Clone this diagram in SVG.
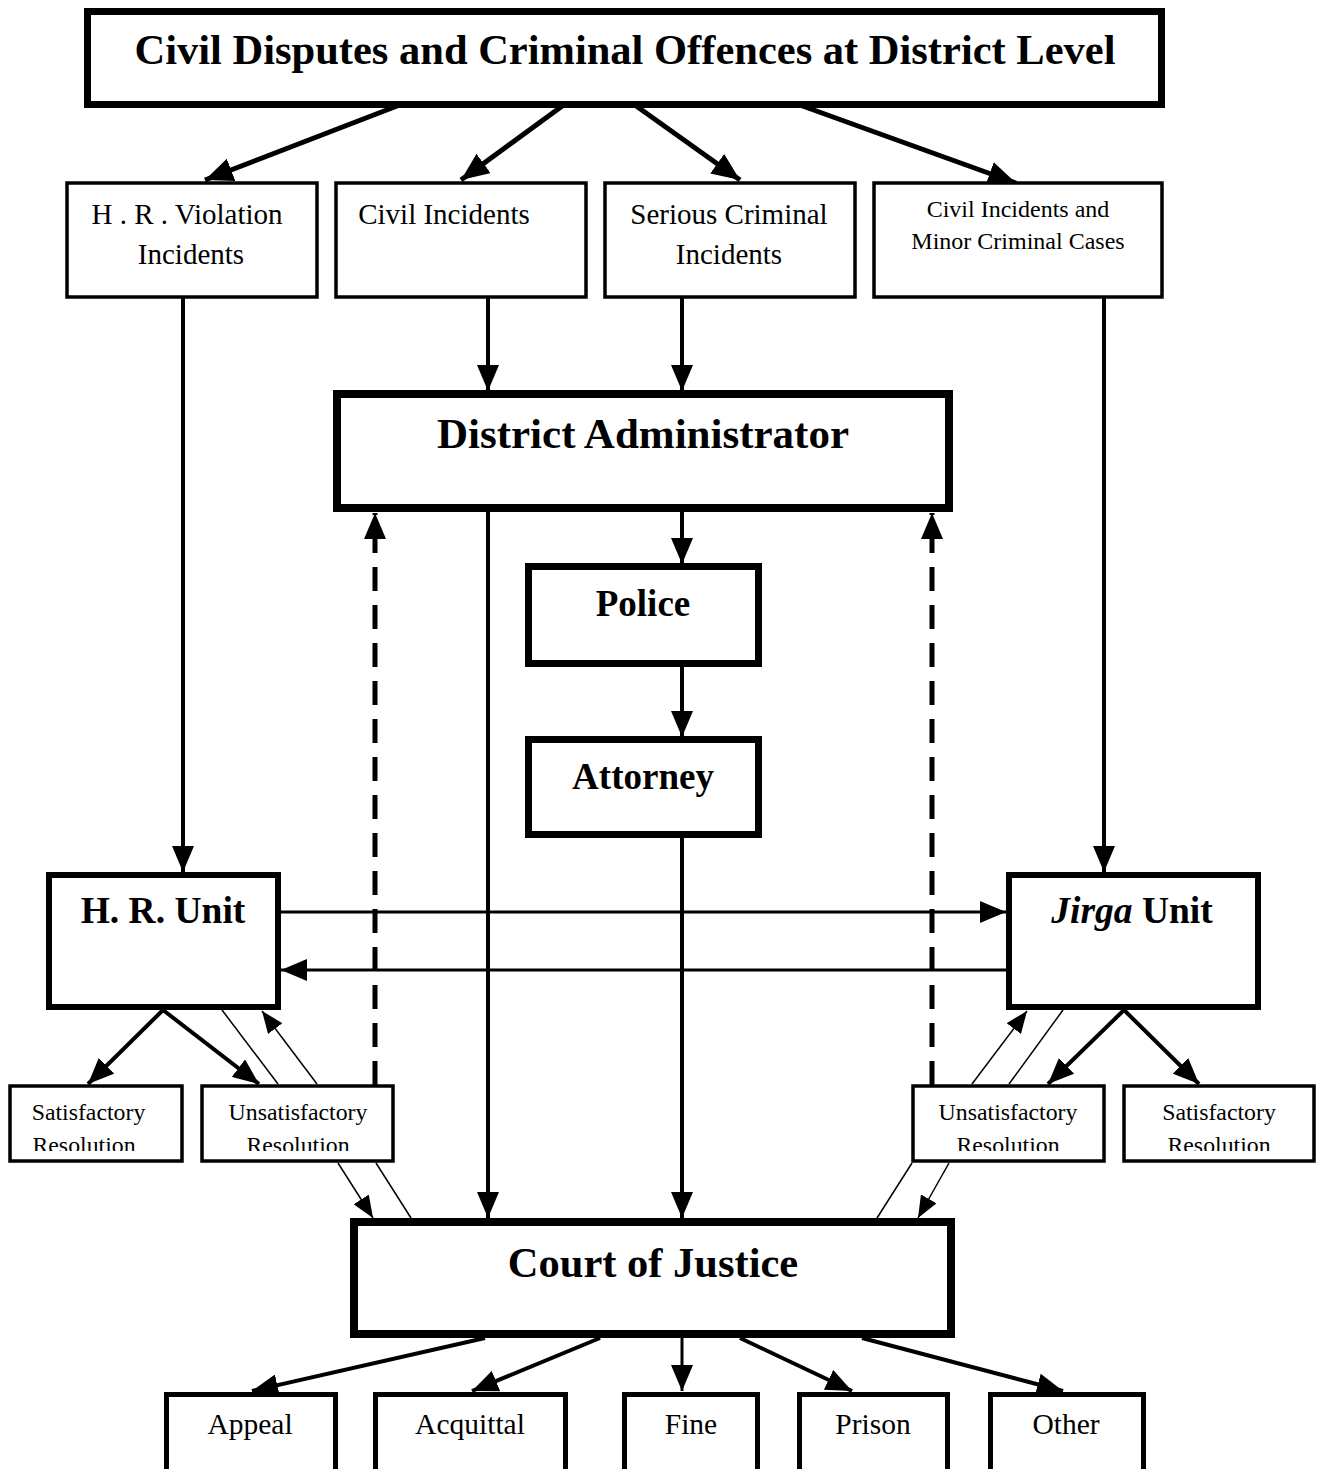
<svg xmlns="http://www.w3.org/2000/svg" width="1324" height="1469" viewBox="0 0 1324 1469">
<style>
  .box{fill:#fff;stroke:#000}
  .t{font-family:"Liberation Serif","Times New Roman",serif;fill:#000;text-anchor:middle}
  .b{font-weight:bold}
  .c{fill:none;stroke:#000}
</style>
<defs>
  <marker id="aL" markerUnits="userSpaceOnUse" markerWidth="28" markerHeight="24" refX="28" refY="12" orient="auto" viewBox="0 0 28 24"><path d="M0,0 L28,12 L0,24 z" fill="#000"/></marker>
  <marker id="aM" markerUnits="userSpaceOnUse" markerWidth="26" markerHeight="22" refX="26" refY="11" orient="auto" viewBox="0 0 26 22"><path d="M0,0 L26,11 L0,22 z" fill="#000"/></marker>
  <marker id="aS" markerUnits="userSpaceOnUse" markerWidth="22" markerHeight="18" refX="22" refY="9" orient="auto" viewBox="0 0 22 18"><path d="M0,0 L22,9 L0,18 z" fill="#000"/></marker>
  <clipPath id="cl1"><rect x="0" y="1086" width="1324" height="65"/></clipPath>
</defs>

<g id="connectors">
  <line class="c" stroke-width="5" x1="410" y1="101" x2="205" y2="180" marker-end="url(#aL)"/>
  <line class="c" stroke-width="5" x1="565" y1="104" x2="461" y2="180" marker-end="url(#aL)"/>
  <line class="c" stroke-width="5" x1="625" y1="98" x2="740" y2="180" marker-end="url(#aL)"/>
  <line class="c" stroke-width="5" x1="797" y1="104" x2="1016" y2="183" marker-end="url(#aL)"/>
  <line class="c" stroke-width="4" x1="488" y1="298" x2="488" y2="391" marker-end="url(#aM)"/>
  <line class="c" stroke-width="4" x1="682" y1="298" x2="682" y2="391" marker-end="url(#aM)"/>
  <line class="c" stroke-width="4" x1="682" y1="510" x2="682" y2="564" marker-end="url(#aM)"/>
  <line class="c" stroke-width="4" x1="682" y1="665" x2="682" y2="737" marker-end="url(#aM)"/>
  <line class="c" stroke-width="4" x1="682" y1="837" x2="682" y2="1218" marker-end="url(#aM)"/>
  <line class="c" stroke-width="4" x1="488" y1="510" x2="488" y2="1218" marker-end="url(#aM)"/>
  <line class="c" stroke-width="5" stroke-dasharray="24,14" x1="375" y1="1085" x2="375" y2="513" marker-end="url(#aM)"/>
  <line class="c" stroke-width="5" stroke-dasharray="24,14" x1="932" y1="1085" x2="932" y2="513" marker-end="url(#aM)"/>
  <line class="c" stroke-width="4" x1="183" y1="298" x2="183" y2="872" marker-end="url(#aM)"/>
  <line class="c" stroke-width="4" x1="1104" y1="298" x2="1104" y2="872" marker-end="url(#aM)"/>
  <line class="c" stroke-width="3" x1="281" y1="912" x2="1006" y2="912" marker-end="url(#aM)"/>
  <line class="c" stroke-width="3" x1="1006" y1="970" x2="281" y2="970" marker-end="url(#aM)"/>
  <line class="c" stroke-width="4" x1="163" y1="1010" x2="88" y2="1084" marker-end="url(#aM)"/>
  <line class="c" stroke-width="4" x1="163" y1="1010" x2="259" y2="1084" marker-end="url(#aM)"/>
  <line class="c" stroke-width="1.5" x1="222" y1="1010" x2="278" y2="1084"/>
  <line class="c" stroke-width="1.5" x1="317" y1="1084" x2="262" y2="1011" marker-end="url(#aS)"/>
  <line class="c" stroke-width="1.5" x1="338" y1="1163" x2="373" y2="1218" marker-end="url(#aS)"/>
  <line class="c" stroke-width="1.5" x1="376" y1="1163" x2="411" y2="1218"/>
  <line class="c" stroke-width="4" x1="1124" y1="1010" x2="1048" y2="1084" marker-end="url(#aM)"/>
  <line class="c" stroke-width="4" x1="1124" y1="1010" x2="1199" y2="1084" marker-end="url(#aM)"/>
  <line class="c" stroke-width="1.5" x1="1009" y1="1084" x2="1063" y2="1010"/>
  <line class="c" stroke-width="1.5" x1="972" y1="1084" x2="1027" y2="1011" marker-end="url(#aS)"/>
  <line class="c" stroke-width="1.5" x1="912" y1="1163" x2="877" y2="1218"/>
  <line class="c" stroke-width="1.5" x1="949" y1="1163" x2="918" y2="1218" marker-end="url(#aS)"/>
  <line class="c" stroke-width="4" x1="485" y1="1338" x2="252" y2="1391" marker-end="url(#aM)"/>
  <line class="c" stroke-width="4" x1="600" y1="1338" x2="472" y2="1391" marker-end="url(#aM)"/>
  <line class="c" stroke-width="3" x1="682" y1="1338" x2="682" y2="1391" marker-end="url(#aM)"/>
  <line class="c" stroke-width="4" x1="740" y1="1338" x2="852" y2="1391" marker-end="url(#aM)"/>
  <line class="c" stroke-width="4" x1="862" y1="1338" x2="1063" y2="1391" marker-end="url(#aM)"/>
</g>

<g id="top">
  <rect class="box" stroke-width="7" x="87.5" y="11.5" width="1074" height="93"/>
  <text class="t b" x="625" y="64" font-size="42.5">Civil Disputes and Criminal Offences at District Level</text>
</g>

<g id="hr-violation">
  <rect class="box" stroke-width="3.5" x="67" y="183" width="250" height="114"/>
  <text class="t" x="187" y="224" font-size="29">H . R . Violation</text>
  <text class="t" x="191" y="264" font-size="29">Incidents</text>
</g>
<g id="civil-incidents">
  <rect class="box" stroke-width="3.5" x="336" y="183" width="250" height="114"/>
  <text class="t" x="444" y="224" font-size="29">Civil Incidents</text>
</g>
<g id="serious-criminal">
  <rect class="box" stroke-width="3.5" x="605" y="183" width="250" height="114"/>
  <text class="t" x="729" y="224" font-size="29">Serious Criminal</text>
  <text class="t" x="729" y="264" font-size="29">Incidents</text>
</g>
<g id="civil-minor">
  <rect class="box" stroke-width="3.5" x="874" y="183" width="288" height="114"/>
  <text class="t" x="1018" y="217" font-size="24">Civil Incidents and</text>
  <text class="t" x="1018" y="249" font-size="24">Minor Criminal Cases</text>
</g>

<g id="district-admin">
  <rect class="box" stroke-width="8" x="337" y="394" width="612" height="114"/>
  <text class="t b" x="643" y="448" font-size="43">District Administrator</text>
</g>
<g id="police">
  <rect class="box" stroke-width="7" x="528.5" y="566.5" width="230" height="97"/>
  <text class="t b" x="643" y="616" font-size="37">Police</text>
</g>
<g id="attorney">
  <rect class="box" stroke-width="7" x="528.5" y="739.5" width="230" height="95"/>
  <text class="t b" x="643" y="789" font-size="37">Attorney</text>
</g>

<g id="hr-unit">
  <rect class="box" stroke-width="6" x="49" y="875" width="229" height="132"/>
  <text class="t b" x="163" y="923" font-size="37.5">H. R. Unit</text>
</g>
<g id="jirga-unit">
  <rect class="box" stroke-width="6" x="1009" y="875" width="249" height="132"/>
  <text class="t b" x="1132" y="923" font-size="37.5"><tspan font-style="italic">Jirga</tspan> Unit</text>
</g>

<g id="sat-left">
  <rect class="box" stroke-width="3.5" x="10" y="1086" width="172" height="75"/>
  <g clip-path="url(#cl1)">
    <text class="t" x="88.5" y="1120" font-size="23.8">Satisfactory</text>
    <text class="t" x="84" y="1153" font-size="23.8">Resolution</text>
  </g>
</g>
<g id="unsat-left">
  <rect class="box" stroke-width="3.5" x="202" y="1086" width="191" height="75"/>
  <g clip-path="url(#cl1)">
    <text class="t" x="298" y="1120" font-size="23.8">Unsatisfactory</text>
    <text class="t" x="298" y="1153" font-size="23.8">Resolution</text>
  </g>
</g>
<g id="unsat-right">
  <rect class="box" stroke-width="3.5" x="913" y="1086" width="191" height="75"/>
  <g clip-path="url(#cl1)">
    <text class="t" x="1008" y="1120" font-size="23.8">Unsatisfactory</text>
    <text class="t" x="1008" y="1153" font-size="23.8">Resolution</text>
  </g>
</g>
<g id="sat-right">
  <rect class="box" stroke-width="3.5" x="1124" y="1086" width="190" height="75"/>
  <g clip-path="url(#cl1)">
    <text class="t" x="1219" y="1120" font-size="23.8">Satisfactory</text>
    <text class="t" x="1219" y="1153" font-size="23.8">Resolution</text>
  </g>
</g>

<g id="court">
  <rect class="box" stroke-width="8" x="354" y="1222" width="597" height="112"/>
  <text class="t b" x="653" y="1277" font-size="42.5">Court of Justice</text>
</g>

<g id="appeal">
  <rect class="box" stroke-width="5" x="166.5" y="1394.5" width="169" height="80"/>
  <text class="t" x="250" y="1434" font-size="29.5">Appeal</text>
</g>
<g id="acquittal">
  <rect class="box" stroke-width="5" x="375.5" y="1394.5" width="190" height="80"/>
  <text class="t" x="470" y="1434" font-size="29.5">Acquittal</text>
</g>
<g id="fine">
  <rect class="box" stroke-width="5" x="624.5" y="1394.5" width="133" height="80"/>
  <text class="t" x="691" y="1434" font-size="29.5">Fine</text>
</g>
<g id="prison">
  <rect class="box" stroke-width="5" x="799.5" y="1394.5" width="148" height="80"/>
  <text class="t" x="873" y="1434" font-size="29.5">Prison</text>
</g>
<g id="other">
  <rect class="box" stroke-width="5" x="990.5" y="1394.5" width="153" height="80"/>
  <text class="t" x="1066" y="1434" font-size="29.5">Other</text>
</g>
</svg>
